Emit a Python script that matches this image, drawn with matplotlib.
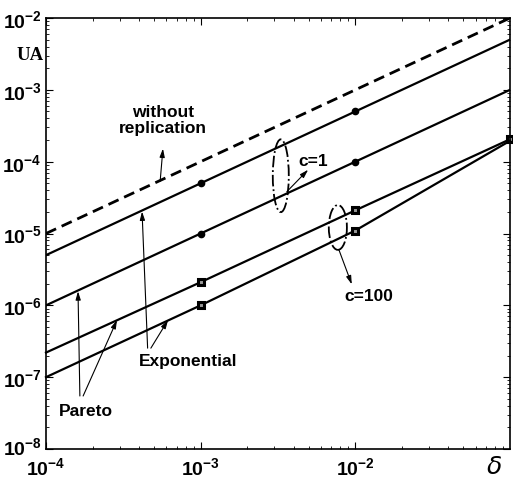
import numpy as np
import matplotlib
matplotlib.use('Agg')
import matplotlib.pyplot as plt
import matplotlib.transforms as mtransforms
from matplotlib.patches import Ellipse
from matplotlib.ticker import LogLocator, FixedLocator, NullFormatter

plt.rcParams['font.family'] = 'Liberation Sans'
plt.rcParams['mathtext.fontset'] = 'custom'
plt.rcParams['mathtext.rm'] = 'Liberation Sans:bold'
plt.rcParams['mathtext.bf'] = 'Liberation Sans:bold'

# data
delta = [1e-4, 1e-3, 1e-2, 1e-1]
no_repl = [1e-5, 1e-4, 1e-3, 1e-2]
exp_c1 = [5e-6, 5e-5, 5e-4, 5e-3]
par_c1 = [1e-6, 1e-5, 1e-4, 1e-3]
par_c100 = [2.2e-7, 2.1e-6, 2.1e-5, 2.05e-4]
exp_c100 = [1e-7, 1e-6, 1.1e-5, 1.95e-4]

xticks = [1e-4, 1e-3, 1e-2]
yticks = [1e-8, 1e-7, 1e-6, 1e-5, 1e-4, 1e-3, 1e-2]

fig = plt.figure(figsize=(5.13, 4.81), dpi=100)
ax = fig.add_axes([46/513, 31/481, 464/513, 431/481])

ax.plot(delta, no_repl, 'k--', lw=2, dashes=(4, 2.2))
ax.plot(delta, exp_c1, 'k-', lw=1.6, marker='o', ms=4.5, markevery=[1, 2])
ax.plot(delta, par_c1, 'k-', lw=1.6, marker='o', ms=4.5, markevery=[1, 2])
ax.plot(delta, par_c100, 'k-', lw=1.6, marker='s', ms=5, mfc='#999999',
        mec='k', mew=2.2, markevery=[1, 2, 3], clip_on=False)
ax.plot(delta, exp_c100, 'k-', lw=1.6, marker='s', ms=5, mfc='#999999',
        mec='k', mew=2.2, markevery=[1, 2], clip_on=False)

ax.set_xscale('log')
ax.set_yscale('log')
ax.set_xlim(1e-4, 1e-1)
ax.set_ylim(1e-8, 1e-2)

ax.xaxis.set_major_locator(FixedLocator(xticks))
ax.yaxis.set_major_locator(FixedLocator(yticks))
ax.xaxis.set_minor_locator(LogLocator(base=10, subs=np.arange(2, 10), numticks=20))
ax.yaxis.set_minor_locator(LogLocator(base=10, subs=np.arange(2, 10), numticks=20))
ax.xaxis.set_minor_formatter(NullFormatter())
ax.yaxis.set_minor_formatter(NullFormatter())
ax.set_xticklabels([r'$\mathbf{10^{%d}}$' % int(np.log10(v)) for v in xticks])
ax.set_yticklabels([r'$\mathbf{10^{%d}}$' % int(np.log10(v)) for v in yticks])
ax.tick_params(which='both', direction='in', top=True, right=True, labelsize=14)
ax.tick_params(which='major', length=5, width=0.8)
ax.tick_params(which='minor', length=2.5, width=0.6)
ax.tick_params(axis='x', pad=5)
ax.tick_params(axis='y', pad=3)
for s in ax.spines.values():
    s.set_linewidth(1.2)

# nudge the lowest y label up a little so it clears the first x label
lab = ax.get_yticklabels()[0]
lab.set_transform(lab.get_transform() +
                  mtransforms.ScaledTranslation(0, 4/100, fig.dpi_scale_trans))

fig.text(30/513, 1 - 55/481, 'UA', family='Liberation Serif', fontsize=13.5,
         fontweight='bold', ha='center', va='center')
fig.text(494/513, 14/481, r'$\delta$', fontsize=18, ha='center', va='center')

tkw = dict(transform=ax.transAxes, fontsize=12.5, fontweight='bold',
           ha='center', va='center')
akw = dict(arrowstyle='-|>,head_length=0.5,head_width=0.15', color='k', lw=0.8,
           shrinkA=0, shrinkB=0)

ax.text(0.252, 0.764, 'without\nreplication', linespacing=1.1, **tkw)
ax.annotate('', xy=(0.252, 0.697), xytext=(0.246, 0.621),
            xycoords='axes fraction', arrowprops=akw)

ax.add_patch(Ellipse((0.506, 0.634), 0.0345, 0.169, transform=ax.transAxes,
                     fill=False, ls='-.', lw=1.3, ec='k'))
ax.text(0.575, 0.669, 'c=1', **tkw)
ax.annotate('', xy=(0.565, 0.648), xytext=(0.519, 0.597),
            xycoords='axes fraction', arrowprops=akw)

ax.add_patch(Ellipse((0.629, 0.514), 0.039, 0.104, transform=ax.transAxes,
                     fill=False, ls='-.', lw=1.3, ec='k'))
ax.text(0.696, 0.356, 'c=100', **tkw)
ax.annotate('', xy=(0.659, 0.382), xytext=(0.631, 0.463),
            xycoords='axes fraction', arrowprops=akw)

ax.text(0.306, 0.206, 'Exponential', **tkw)
ax.annotate('', xy=(0.207, 0.551), xytext=(0.219, 0.234),
            xycoords='axes fraction', arrowprops=akw)
ax.annotate('', xy=(0.263, 0.299), xytext=(0.226, 0.234),
            xycoords='axes fraction', arrowprops=akw)

ax.text(0.086, 0.090, 'Pareto', **tkw)
ax.annotate('', xy=(0.069, 0.366), xytext=(0.073, 0.123),
            xycoords='axes fraction', arrowprops=akw)
ax.annotate('', xy=(0.153, 0.299), xytext=(0.080, 0.123),
            xycoords='axes fraction', arrowprops=akw)

fig.savefig('out.png', dpi=100)
